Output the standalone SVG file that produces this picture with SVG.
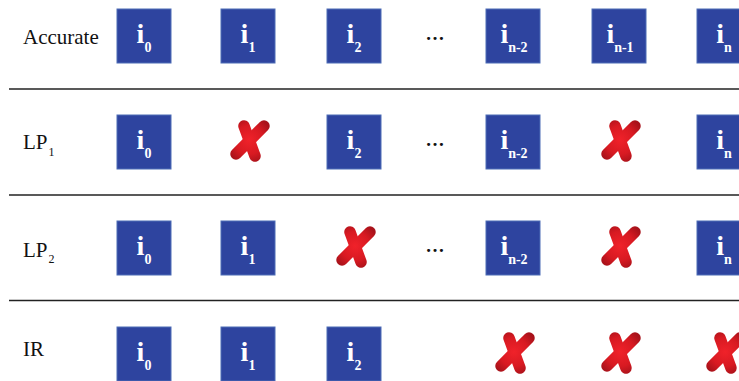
<svg xmlns="http://www.w3.org/2000/svg" xmlns:xlink="http://www.w3.org/1999/xlink" width="739" height="381" viewBox="0 0 739 381">
<style>
.box{fill:#2e449f;stroke:#4d6cb6;stroke-width:1}
.bt{font-family:"Liberation Serif","Times New Roman",serif;font-weight:bold;font-size:28px;fill:#fff;text-anchor:middle}
.sub{font-size:14px}
.lbl{font-family:"Liberation Serif","Times New Roman",serif;font-size:21px;fill:#111}
.lsub{font-size:12px}
.dots{font-family:"Liberation Serif","Times New Roman",serif;font-size:19px;font-weight:bold;fill:#111;text-anchor:middle}
.sep{stroke:#222;stroke-width:1.4}
</style>
<defs>
<radialGradient id="xg" gradientUnits="userSpaceOnUse" cx="0" cy="0" r="24">
<stop offset="0" stop-color="#f0222a"/>
<stop offset="0.6" stop-color="#d81a22"/>
<stop offset="1" stop-color="#a8121a"/>
</radialGradient>
<g id="xm" fill="none" stroke="url(#xg)" stroke-width="11.5" stroke-linecap="round">
<path d="M-5,-14 L6,16"/>
<path d="M15,-14 L-13,14"/>
</g>
</defs>

<g id="connectors">
<line class="sep" x1="9" y1="89" x2="739" y2="89"/>
<line class="sep" x1="9" y1="195" x2="739" y2="195"/>
<line class="sep" x1="9" y1="300.5" x2="739" y2="300.5"/>
</g>

<g id="labels">
<text class="lbl" x="23" y="44">Accurate</text>
<text class="lbl" x="23" y="149">LP<tspan class="lsub" dx="1" dy="7">1</tspan></text>
<text class="lbl" x="23" y="257">LP<tspan class="lsub" dx="1" dy="6">2</tspan></text>
<text class="lbl" x="23" y="356">IR</text>
</g>

<!-- Row 1: Accurate -->
<g id="r1c0"><rect class="box" x="117" y="9" width="54" height="54"/><text class="bt" x="144" y="43">i<tspan class="sub" dy="9">0</tspan></text></g>
<g id="r1c1"><rect class="box" x="221" y="9" width="54" height="54"/><text class="bt" x="248" y="43">i<tspan class="sub" dy="9">1</tspan></text></g>
<g id="r1c2"><rect class="box" x="327" y="9" width="54" height="54"/><text class="bt" x="354" y="43">i<tspan class="sub" dy="9">2</tspan></text></g>
<g id="r1dots"><text class="dots" x="435" y="40">…</text></g>
<g id="r1c3"><rect class="box" x="486" y="9" width="54" height="54"/><text class="bt" x="514" y="43">i<tspan class="sub" dy="9">n-2</tspan></text></g>
<g id="r1c4"><rect class="box" x="592" y="9" width="54" height="54"/><text class="bt" x="620" y="43">i<tspan class="sub" dy="9">n-1</tspan></text></g>
<g id="r1c5"><rect class="box" x="697" y="9" width="54" height="54"/><text class="bt" x="724" y="43">i<tspan class="sub" dy="9">n</tspan></text></g>

<!-- Row 2: LP1 -->
<g id="r2c0"><rect class="box" x="117" y="115" width="54" height="54"/><text class="bt" x="144" y="149">i<tspan class="sub" dy="9">0</tspan></text></g>
<g id="r2c1"><use xlink:href="#xm" href="#xm" transform="translate(249,140)"/></g>
<g id="r2c2"><rect class="box" x="327" y="115" width="54" height="54"/><text class="bt" x="354" y="149">i<tspan class="sub" dy="9">2</tspan></text></g>
<g id="r2dots"><text class="dots" x="435" y="146">…</text></g>
<g id="r2c3"><rect class="box" x="486" y="115" width="54" height="54"/><text class="bt" x="514" y="149">i<tspan class="sub" dy="9">n-2</tspan></text></g>
<g id="r2c4"><use xlink:href="#xm" href="#xm" transform="translate(620,140)"/></g>
<g id="r2c5"><rect class="box" x="697" y="115" width="54" height="54"/><text class="bt" x="724" y="149">i<tspan class="sub" dy="9">n</tspan></text></g>

<!-- Row 3: LP2 -->
<g id="r3c0"><rect class="box" x="117" y="221" width="54" height="54"/><text class="bt" x="144" y="255">i<tspan class="sub" dy="9">0</tspan></text></g>
<g id="r3c1"><rect class="box" x="221" y="221" width="54" height="54"/><text class="bt" x="248" y="255">i<tspan class="sub" dy="9">1</tspan></text></g>
<g id="r3c2"><use xlink:href="#xm" href="#xm" transform="translate(355,246)"/></g>
<g id="r3dots"><text class="dots" x="435" y="252">…</text></g>
<g id="r3c3"><rect class="box" x="486" y="221" width="54" height="54"/><text class="bt" x="514" y="255">i<tspan class="sub" dy="9">n-2</tspan></text></g>
<g id="r3c4"><use xlink:href="#xm" href="#xm" transform="translate(620,246)"/></g>
<g id="r3c5"><rect class="box" x="697" y="221" width="54" height="54"/><text class="bt" x="724" y="255">i<tspan class="sub" dy="9">n</tspan></text></g>

<!-- Row 4: IR -->
<g id="r4c0"><rect class="box" x="117" y="327" width="54" height="54"/><text class="bt" x="144" y="361">i<tspan class="sub" dy="9">0</tspan></text></g>
<g id="r4c1"><rect class="box" x="221" y="327" width="54" height="54"/><text class="bt" x="248" y="361">i<tspan class="sub" dy="9">1</tspan></text></g>
<g id="r4c2"><rect class="box" x="327" y="327" width="54" height="54"/><text class="bt" x="354" y="361">i<tspan class="sub" dy="9">2</tspan></text></g>
<g id="r4c3"><use xlink:href="#xm" href="#xm" transform="translate(514,352)"/></g>
<g id="r4c4"><use xlink:href="#xm" href="#xm" transform="translate(620,352)"/></g>
<g id="r4c5"><use xlink:href="#xm" href="#xm" transform="translate(725,352)"/></g>
</svg>
